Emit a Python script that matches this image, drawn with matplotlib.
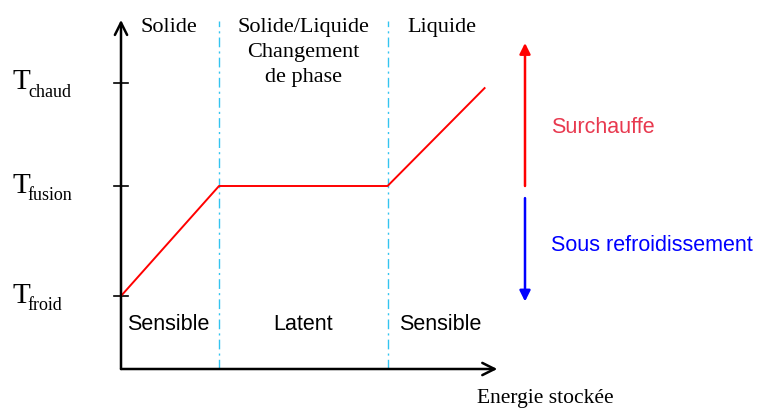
import matplotlib.pyplot as plt

# energie (unites arbitraires) / temperature (T_froid = 0, T_fusion = 1)
energie = [0.0, 1.0, 2.72, 3.71]
temperature = [0.0, 1.0, 1.0, 1.89]
frontieres = [1.0, 2.72]
t_ticks = [0.0, 1.0, 1.94]
t_noms = ["froid", "fusion", "chaud"]
phases = ["Solide", "Solide/Liquide\nChangement\nde phase", "Liquide"]
phases_x = [0.49, 1.86, 3.27]
stockage = ["Sensible", "Latent", "Sensible"]
stockage_x = [0.48, 1.86, 3.26]

serif = "Liberation Serif"
sans = "Liberation Sans"

fig = plt.figure(figsize=(7.61, 4.09), dpi=100)
ax = fig.add_axes([0, 0, 1, 1])
ax.set_xlim(-121 / 98, 640 / 98)
ax.set_ylim(-113 / 110, 296 / 110)
ax.axis("off")

x_axe = -73 / 110
# axes avec fleches
ax.annotate("", xy=(0, 2.51), xytext=(0, x_axe),
            arrowprops=dict(arrowstyle="->", color="black", lw=1.8,
                            mutation_scale=22, shrinkA=0, shrinkB=0))
ax.annotate("", xy=(3.84, x_axe), xytext=(0, x_axe),
            arrowprops=dict(arrowstyle="->", color="black", lw=1.8,
                            mutation_scale=22, shrinkA=0, shrinkB=0))

# graduations et libelles T
for t, nom in zip(t_ticks, t_noms):
    ax.plot([-0.07, 0.07], [t, t], color="black", lw=1.2)
    ax.text(-1.11, t - 0.06, "T", fontsize=21, family=serif, ha="left", va="baseline")
    ax.text(-0.95, t - 0.13, nom, fontsize=13, family=serif, ha="left", va="baseline")

# frontieres de phase
for xf in frontieres:
    ax.plot([xf, xf], [x_axe, 2.5], color="#33c4f0", lw=1.0,
            dashes=(7, 3, 1.5, 3))

# courbe
ax.plot(energie, temperature, color="red", lw=1.4)

for txt, xp in zip(phases, phases_x):
    ax.text(xp, 2.53, txt, fontsize=16, family=serif, ha="center", va="top",
            linespacing=1.45)
for txt, xp in zip(stockage, stockage_x):
    ax.text(xp, -0.26, txt, fontsize=15.5, family=sans, ha="center", va="center")

# fleches surchauffe / sous refroidissement
xs = 404 / 98
ax.annotate("", xy=(xs, 2.30), xytext=(xs, 1.0),
            arrowprops=dict(arrowstyle="-|>", color="red", lw=1.8,
                            mutation_scale=16, shrinkA=0, shrinkB=0))
ax.annotate("", xy=(xs, -0.05), xytext=(xs, 0.89),
            arrowprops=dict(arrowstyle="-|>", color="blue", lw=1.8,
                            mutation_scale=16, shrinkA=0, shrinkB=0))
ax.text(4.39, 1.53, "Surchauffe", fontsize=15.5, family=sans, color="#e8394f",
        ha="left", va="center")
ax.text(4.39, 0.46, "Sous refroidissement", fontsize=15.5, family=sans,
        color="blue", ha="left", va="center")

ax.text(4.33, -0.935, "Energie stockée", fontsize=15.5, family=serif,
        ha="center", va="center")

fig.savefig("out.png", dpi=100)
